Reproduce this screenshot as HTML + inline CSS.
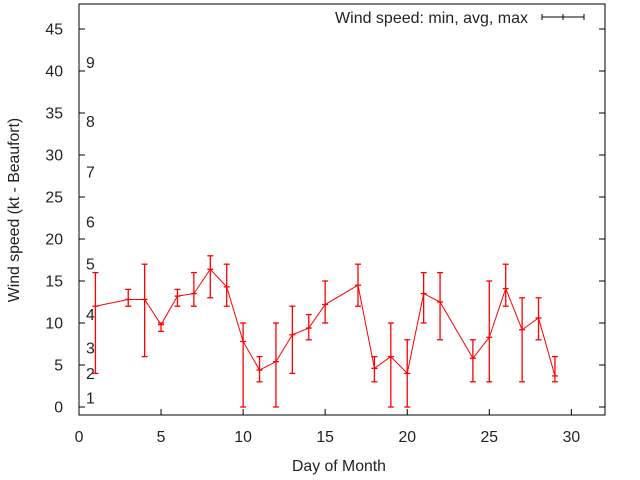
<!DOCTYPE html>
<html><head><style>
body{margin:0;background:#fff;}
svg{display:block;font-family:"Liberation Sans",sans-serif;}
</style></head><body>
<svg id="c" width="640" height="480"></svg>
<script>
const days=[1,3,4,5,6,7,8,9,10,11,12,13,14,15,17,18,19,20,21,22,24,25,26,27,28,29];
const avgV=[12,12.8,12.8,9.8,13.2,13.5,16.4,14.3,7.8,4.4,5.4,8.6,9.4,12.2,14.5,4.6,6,4,13.5,12.5,5.8,8.3,14.1,9.2,10.6,3.7];
const minV=[4,12,6,9,12,12,13,12,0,3,0,4,8,10,12,3,0,0,10,8,3,3,12,3,8,3];
const maxV=[16,14,17,10,14,16,18,17,10,6,10,12,11,15,17,6,10,8,16,16,8,15,17,13,13,6];
const xTicks=[0,5,10,15,20,25,30];
const yTicks=[0,5,10,15,20,25,30,35,40,45];
const beaufort=["1","2","3","4","5","6","7","8","9"];
const beaufortY=[1.1,4,7,11,17,22,28,34,41];
const NS="http://www.w3.org/2000/svg";
const svg=document.getElementById('c');
const L=79,R=605,T=4,B=415;
const FS=15.8;
const X=v=>L+v*(R-L)/32.05;
const Y=v=>407-v*8.4;
function mk(t,a){const e=document.createElementNS(NS,t);for(const k in a)e.setAttribute(k,a[k]);svg.appendChild(e);return e;}
for(const t of xTicks){
 const l=mk('line',{x1:X(t),x2:X(t),y1:B,y2:B-6,stroke:'#000'});
 
 
 const tx=mk('text',{x:X(t),y:B+27,'text-anchor':'middle','font-size':FS,fill:'#222'});tx.textContent=t;
 
 
}
for(const t of yTicks){
 mk('line',{x1:L,x2:L+6,y1:Y(t),y2:Y(t),stroke:'#000'});
 mk('line',{x1:R,x2:R-6,y1:Y(t),y2:Y(t),stroke:'#000'});
 const tx=mk('text',{x:63,y:Y(t)+5.5,'text-anchor':'end','font-size':FS,fill:'#222'});tx.textContent=t;
 
 
}
beaufort.forEach((b,i)=>{
 const tx=mk('text',{x:86,y:Y(beaufortY[i])+5.5,'font-size':FS,fill:'#222'});tx.textContent=b;
 
 
});
const fr=mk('rect',{x:L,y:T,width:R-L,height:B-T,fill:'none',stroke:'#000'});


let pts=days.map((d,i)=>X(d)+','+Y(avgV[i])).join(' ');
const pl=mk('polyline',{points:pts,fill:'none',stroke:'#f00','stroke-width':1});


days.forEach((d,i)=>{
 const x=X(d);
 const g=mk('g',{stroke:'#f00','stroke-width':1.3});
 
 
 [[x,Y(minV[i]),x,Y(maxV[i])],[x-3,Y(minV[i]),x+3,Y(minV[i])],[x-3,Y(maxV[i]),x+3,Y(maxV[i])],[x-3,Y(avgV[i]),x+3,Y(avgV[i])]].forEach(c=>{
  const l=document.createElementNS(NS,'line');
  l.setAttribute('x1',c[0]);l.setAttribute('y1',c[1]);l.setAttribute('x2',c[2]);l.setAttribute('y2',c[3]);g.appendChild(l);
 });
});
const lt=mk('text',{x:528,y:23,'text-anchor':'end','font-size':16,fill:'#222'});lt.textContent='Wind speed: min, avg, max';


const lg=mk('g',{stroke:'#000'});


[[542,17,584,17],[542,14,542,20],[584,14,584,20],[563,14,563,20]].forEach(c=>{
 const l=document.createElementNS(NS,'line');
 l.setAttribute('x1',c[0]);l.setAttribute('y1',c[1]);l.setAttribute('x2',c[2]);l.setAttribute('y2',c[3]);lg.appendChild(l);
});
const xt=mk('text',{x:339,y:471,'text-anchor':'middle','font-size':FS,fill:'#222'});xt.textContent='Day of Month';


const yt=mk('text',{x:0,y:0,'text-anchor':'middle','font-size':FS,fill:'#222',transform:'translate(19,210) rotate(-90)'});yt.textContent='Wind speed (kt - Beaufort)';


</script>
</body></html>
